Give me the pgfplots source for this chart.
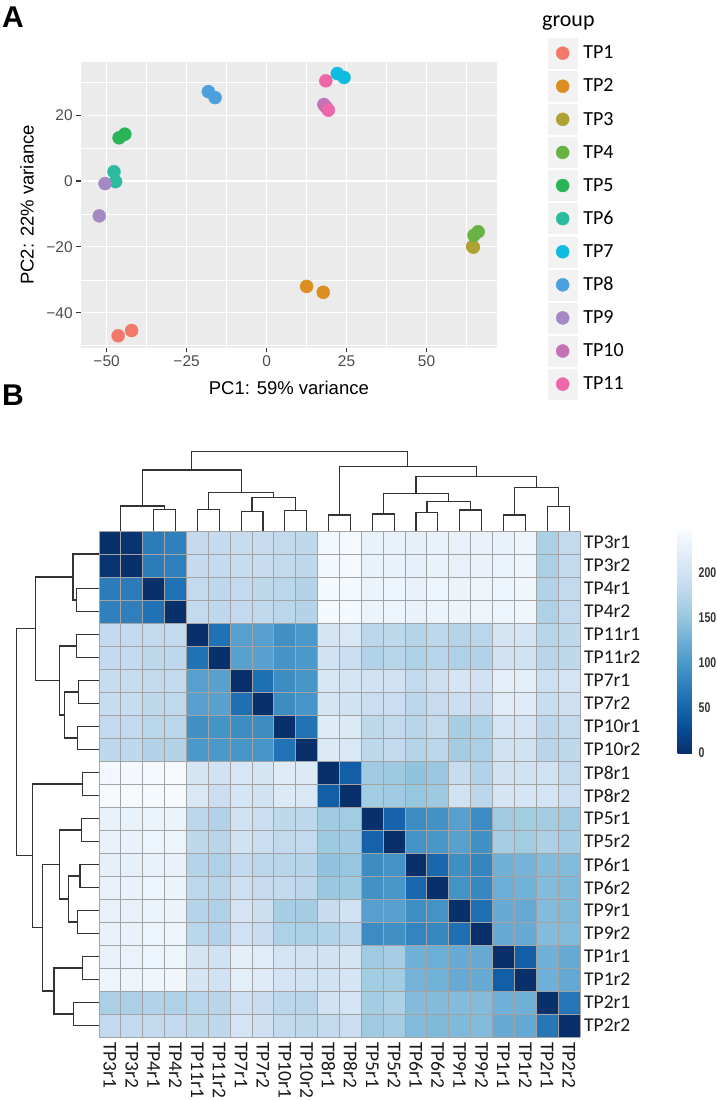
\documentclass[border=0pt]{standalone}
\usepackage{fontspec}
\setmainfont{Liberation Sans}
\newfontfamily\carlito{Carlito}
\newfontfamily\cbfont[FakeStretch=0.75]{Liberation Sans}
\usepackage{pgfplots}
\usepackage{pgfplotstable}
\pgfplotsset{compat=1.18}
\usetikzlibrary{calc}

\definecolor{panelbg}{HTML}{EBEBEB}
\definecolor{tickgray}{HTML}{333333}
\definecolor{labgray}{HTML}{4D4D4D}
\definecolor{keybg}{HTML}{F2F2F2}
\definecolor{cellgray}{HTML}{A3A3A3}
\definecolor{dendrogray}{HTML}{333333}
\definecolor{tp1}{HTML}{F4776B}
\definecolor{tp2}{HTML}{DC8E22}
\definecolor{tp3}{HTML}{ADA232}
\definecolor{tp4}{HTML}{68B344}
\definecolor{tp5}{HTML}{2AB458}
\definecolor{tp6}{HTML}{2DBBA0}
\definecolor{tp7}{HTML}{10BBE0}
\definecolor{tp8}{HTML}{4BA0DD}
\definecolor{tp9}{HTML}{A489C4}
\definecolor{tp10}{HTML}{C472B4}
\definecolor{tp11}{HTML}{EE67A8}

\pgfplotsset{
  colormap={blues}{rgb255=(8,48,107) rgb255=(8,81,156) rgb255=(33,113,181)
    rgb255=(66,146,198) rgb255=(107,174,214) rgb255=(158,202,225)
    rgb255=(198,219,239) rgb255=(222,235,247) rgb255=(247,251,255)},
  grp/.style={only marks, mark=*, mark size=6.5pt, color=#1,
    mark options={draw=none, fill=#1},
    legend image code/.code={
      \fill[keybg] (-14.5pt,-15pt) rectangle (14.5pt,15pt);
      \fill[#1] (0pt,0pt) circle (6.5pt);}},
  dendro/.style={draw=dendrogray, line width=1.1pt, no marks, unbounded coords=jump},
}

% dendrogram segments: leaf position, merge height (same tree on both sides)
\pgfplotstableread{
pos h
2 0
2 21.7
3 21.7
3 0
nan nan
0.5 0
0.5 25
2.5 25
2.5 21.7
nan nan
4 0
4 21.7
5 21.7
5 0
nan nan
6 0
6 19.3
7 19.3
7 0
nan nan
8 0
8 20.3
9 20.3
9 0
nan nan
6.5 19.3
6.5 33.3
8.5 33.3
8.5 20.3
nan nan
4.5 21.7
4.5 38.3
7.5 38.3
7.5 33.3
nan nan
1.5 25
1.5 61
6 61
6 38.3
nan nan
10 0
10 16
11 16
11 0
nan nan
12 0
12 17
13 17
13 0
nan nan
14 0
14 18.3
15 18.3
15 0
nan nan
16 0
16 21
17 21
17 0
nan nan
14.5 18.3
14.5 29.3
16.5 29.3
16.5 21
nan nan
12.5 17
12.5 37.7
15.5 37.7
15.5 29.3
nan nan
18 0
18 16
19 16
19 0
nan nan
20 0
20 24.3
21 24.3
21 0
nan nan
18.5 16
18.5 43.3
20.5 43.3
20.5 24.3
nan nan
14 37.7
14 54.3
19.5 54.3
19.5 43.3
nan nan
10.5 16
10.5 64.3
16.75 64.3
16.75 54.3
nan nan
3.75 61
3.75 79.3
13.625 79.3
13.625 64.3
}\dendrotab

\begin{document}
\begin{tikzpicture}[x=1pt,y=1pt]
\path[use as bounding box] (0,0) rectangle (717,1100);

\node[anchor=base west, inner sep=0pt, font=\bfseries\fontsize{30}{30}\selectfont] at (2,1072) {A};
\node[anchor=base west, inner sep=0pt, font=\bfseries\fontsize{30}{30}\selectfont] at (2,694) {B};

% ---- panel A: PCA ----
\begin{axis}[
  at={(80.7pt,752pt)}, anchor=south west,
  scale only axis, width=416.3pt, height=286.3pt,
  xmin=-58.1, xmax=72, ymin=-50.7, ymax=36.2,
  axis background/.style={fill=panelbg},
  axis line style={draw=none},
  tick align=outside, tick pos=left,
  major tick length=4.5pt, minor tick length=0pt,
  tick style={draw=tickgray, line width=1.1pt},
  xtick={-50,-25,0,25,50}, xticklabels={−50,−25,0,25,50},
  ytick={-40,-20,0,20}, yticklabels={−40,−20,0,20},
  minor xtick={-37.5,-12.5,12.5,37.5,62.5},
  minor ytick={-50,-30,-10,10,30},
  grid=both,
  major grid style={draw=white, line width=1.1pt},
  minor grid style={draw=white, line width=0.55pt},
  ticklabel style={font=\fontsize{15.5}{15.5}\selectfont, text=labgray},
  xlabel={PC1: 59\% variance}, ylabel={PC2: 22\% variance},
  label style={font=\fontsize{18.5}{18.5}\selectfont},
  xlabel style={at={(axis description cs:0.5,-0.1397)}, anchor=center},
  ylabel style={at={(axis description cs:-0.129,0.5)}, anchor=center},
  legend style={at={(axis description cs:1.1225,1.083)}, anchor=north west,
    draw=none, fill=none, inner sep=0pt, outer sep=0pt,
    row sep=2.7pt, column sep=6pt, nodes={inner sep=0pt},
    font=\carlito\fontsize{20}{20}\selectfont},
  legend cell align=left,
]
\addplot[grp=tp1] coordinates {(-46.4,-47.0) (-42.2,-45.4)};
\addlegendentry{TP1}
\addplot[grp=tp2] coordinates {(12.5,-32.0) (17.7,-33.8)};
\addlegendentry{TP2}
\addplot[grp=tp3] coordinates {(64.4,-19.9) (64.6,-20.1)};
\addlegendentry{TP3}
\addplot[grp=tp4] coordinates {(64.8,-16.5) (66.1,-15.4)};
\addlegendentry{TP4}
\addplot[grp=tp5] coordinates {(-46.1,13.1) (-44.3,14.2)};
\addlegendentry{TP5}
\addplot[grp=tp6] coordinates {(-47.7,2.8) (-47.2,-0.2)};
\addlegendentry{TP6}
\addplot[grp=tp7] coordinates {(22.1,32.6) (24.2,31.4)};
\addlegendentry{TP7}
\addplot[grp=tp8] coordinates {(-18.2,27.1) (-16.1,25.3)};
\addlegendentry{TP8}
\addplot[grp=tp9] coordinates {(-50.5,-0.8) (-52.3,-10.6)};
\addlegendentry{TP9}
\addplot[grp=tp10] coordinates {(17.9,23.2) (18.6,22.4)};
\addlegendentry{TP10}
\addplot[grp=tp11] coordinates {(18.5,30.4) (19.3,21.5)};
\addlegendentry{TP11}
\end{axis}
\node[anchor=base west, inner sep=0pt, font=\carlito\fontsize{22}{22}\selectfont] at (542,1073) {group};

% ---- panel B: dendrograms ----
\begin{axis}[
  at={(99pt,569pt)}, anchor=south west,
  scale only axis, width=481pt, height=79.3pt,
  xmin=-0.5, xmax=21.5, ymin=0, ymax=79.3,
  hide axis, clip=false]
\addplot[dendro] table[x=pos, y=h] {\dendrotab};
\end{axis}

\begin{axis}[
  at={(16.5pt,63pt)}, anchor=south west,
  scale only axis, width=82.5pt, height=506pt,
  xmin=0, xmax=79.3, x dir=reverse,
  ymin=-0.5, ymax=21.5, y dir=reverse,
  hide axis, clip=false]
\addplot[dendro] table[x=h, y=pos] {\dendrotab};
\end{axis}

% ---- panel B: heatmap ----
\begin{axis}[
  at={(99pt,63pt)}, anchor=south west,
  scale only axis, width=481pt, height=506pt,
  xmin=-0.5, xmax=21.5, ymin=-0.5, ymax=21.5, y dir=reverse,
  enlargelimits=false, axis on top,
  axis line style={draw=none},
  xtick={0,...,21}, ytick={0,...,21},
  xticklabels={TP3r1,TP3r2,TP4r1,TP4r2,TP11r1,TP11r2,TP7r1,TP7r2,TP10r1,TP10r2,TP8r1,TP8r2,TP5r1,TP5r2,TP6r1,TP6r2,TP9r1,TP9r2,TP1r1,TP1r2,TP2r1,TP2r2},
  yticklabels={TP3r1,TP3r2,TP4r1,TP4r2,TP11r1,TP11r2,TP7r1,TP7r2,TP10r1,TP10r2,TP8r1,TP8r2,TP5r1,TP5r2,TP6r1,TP6r2,TP9r1,TP9r2,TP1r1,TP1r2,TP2r1,TP2r2},
  major tick length=0pt, minor tick length=0pt,
  minor xtick={-0.5,0.5,...,21.5}, minor ytick={-0.5,0.5,...,21.5},
  grid=minor, minor grid style={draw=cellgray, line width=1pt},
  yticklabel pos=right,
  ticklabel style={font=\carlito\fontsize{19.5}{19.5}\selectfont, text=black!90, inner sep=0pt},
  xticklabel style={rotate=-90, anchor=west},
  yticklabel style={anchor=west},
  xticklabel shift=5pt, yticklabel shift=4pt,
  colormap name=blues, point meta min=0, point meta max=248,
  colorbar,
  colorbar style={
    at={($(parent axis.north east)+(89pt,1pt)$)}, anchor=north west,
    scale only axis, width=15pt, height=223pt,
    axis line style={draw=none}, major tick length=0pt,
    xtick=\empty,
    ytick={0,50,100,150,200}, yticklabels={0,50,100,150,200},
    yticklabel style={font=\cbfont\bfseries\fontsize{14}{14}\selectfont, text=tickgray, inner sep=0pt, anchor=west},
    yticklabel shift=6pt},
]
\addplot[matrix plot*, mesh/cols=22, point meta=explicit] coordinates {
(0,0)[0] (1,0)[4] (2,0)[72] (3,0)[76] (4,0)[185] (5,0)[185] (6,0)[188] (7,0)[188] (8,0)[183] (9,0)[180] (10,0)[242] (11,0)[244] (12,0)[230] (13,0)[231] (14,0)[226] (15,0)[231] (16,0)[229] (17,0)[231] (18,0)[231] (19,0)[235] (20,0)[165] (21,0)[183]

(0,1)[4] (1,1)[0] (2,1)[72] (3,1)[75] (4,1)[185] (5,1)[185] (6,1)[188] (7,1)[188] (8,1)[183] (9,1)[180] (10,1)[243] (11,1)[245] (12,1)[230] (13,1)[231] (14,1)[227] (15,1)[231] (16,1)[229] (17,1)[231] (18,1)[232] (19,1)[235] (20,1)[165] (21,1)[183]

(0,2)[72] (1,2)[72] (2,2)[0] (3,2)[62] (4,2)[183] (5,2)[180] (6,2)[183] (7,2)[180] (8,2)[177] (9,2)[172] (10,2)[245] (11,2)[245] (12,2)[234] (13,2)[235] (14,2)[231] (15,2)[235] (16,2)[233] (17,2)[235] (18,2)[236] (19,2)[238] (20,2)[170] (21,2)[183]

(0,3)[76] (1,3)[75] (2,3)[62] (3,3)[0] (4,3)[183] (5,3)[181] (6,3)[184] (7,3)[182] (8,3)[177] (9,3)[172] (10,3)[245] (11,3)[245] (12,3)[233] (13,3)[235] (14,3)[231] (15,3)[234] (16,3)[233] (17,3)[235] (18,3)[236] (19,3)[238] (20,3)[168] (21,3)[183]

(0,4)[185] (1,4)[185] (2,4)[183] (3,4)[183] (4,4)[0] (5,4)[62] (6,4)[108] (7,4)[108] (8,4)[92] (9,4)[100] (10,4)[205] (11,4)[212] (12,4)[178] (13,4)[180] (14,4)[173] (15,4)[179] (16,4)[173] (17,4)[177] (18,4)[206] (19,4)[206] (20,4)[174] (21,4)[180]

(0,5)[185] (1,5)[185] (2,5)[180] (3,5)[181] (4,5)[62] (5,5)[0] (6,5)[110] (7,5)[110] (8,5)[95] (9,5)[100] (10,5)[200] (11,5)[192] (12,5)[170] (13,5)[175] (14,5)[168] (15,5)[174] (16,5)[168] (17,5)[170] (18,5)[200] (19,5)[200] (20,5)[175] (21,5)[180]

(0,6)[188] (1,6)[188] (2,6)[183] (3,6)[184] (4,6)[108] (5,6)[110] (6,6)[0] (7,6)[60] (8,6)[88] (9,6)[97] (10,6)[208] (11,6)[205] (12,6)[200] (13,6)[200] (14,6)[184] (15,6)[195] (16,6)[205] (17,6)[198] (18,6)[224] (19,6)[222] (20,6)[195] (21,6)[204]

(0,7)[188] (1,7)[188] (2,7)[180] (3,7)[182] (4,7)[108] (5,7)[110] (6,7)[60] (7,7)[0] (8,7)[88] (9,7)[96] (10,7)[206] (11,7)[200] (12,7)[192] (13,7)[192] (14,7)[178] (15,7)[186] (16,7)[194] (17,7)[190] (18,7)[220] (19,7)[218] (20,7)[190] (21,7)[196]

(0,8)[183] (1,8)[183] (2,8)[177] (3,8)[177] (4,8)[92] (5,8)[95] (6,8)[88] (7,8)[88] (8,8)[0] (9,8)[63] (10,8)[218] (11,8)[215] (12,8)[180] (13,8)[183] (14,8)[176] (15,8)[183] (16,8)[163] (17,8)[167] (18,8)[204] (19,8)[204] (20,8)[178] (21,8)[183]

(0,9)[180] (1,9)[180] (2,9)[172] (3,9)[172] (4,9)[100] (5,9)[100] (6,9)[97] (7,9)[96] (8,9)[63] (9,9)[0] (10,9)[215] (11,9)[212] (12,9)[180] (13,9)[183] (14,9)[173] (15,9)[178] (16,9)[160] (17,9)[165] (18,9)[200] (19,9)[200] (20,9)[175] (21,9)[180]

(0,10)[242] (1,10)[243] (2,10)[245] (3,10)[245] (4,10)[205] (5,10)[200] (6,10)[208] (7,10)[206] (8,10)[218] (9,10)[215] (10,10)[0] (11,10)[45] (12,10)[157] (13,10)[155] (14,10)[147] (15,10)[153] (16,10)[188] (17,10)[170] (18,10)[200] (19,10)[200] (20,10)[200] (21,10)[184]

(0,11)[244] (1,11)[245] (2,11)[245] (3,11)[245] (4,11)[212] (5,11)[192] (6,11)[205] (7,11)[200] (8,11)[215] (9,11)[212] (10,11)[45] (11,11)[0] (12,11)[158] (13,11)[157] (14,11)[151] (15,11)[155] (16,11)[200] (17,11)[178] (18,11)[206] (19,11)[206] (20,11)[204] (21,11)[192]

(0,12)[230] (1,12)[230] (2,12)[234] (3,12)[233] (4,12)[178] (5,12)[170] (6,12)[200] (7,12)[192] (8,12)[180] (9,12)[180] (10,12)[157] (11,12)[158] (12,12)[0] (13,12)[48] (14,12)[88] (15,12)[93] (16,12)[108] (17,12)[87] (18,12)[156] (19,12)[158] (20,12)[160] (21,12)[156]

(0,13)[231] (1,13)[231] (2,13)[235] (3,13)[235] (4,13)[180] (5,13)[175] (6,13)[200] (7,13)[192] (8,13)[183] (9,13)[183] (10,13)[155] (11,13)[157] (12,13)[48] (13,13)[0] (14,13)[94] (15,13)[98] (16,13)[110] (17,13)[92] (18,13)[161] (19,13)[158] (20,13)[166] (21,13)[160]

(0,14)[226] (1,14)[227] (2,14)[231] (3,14)[231] (4,14)[173] (5,14)[168] (6,14)[184] (7,14)[178] (8,14)[176] (9,14)[173] (10,14)[147] (11,14)[151] (12,14)[88] (13,14)[94] (14,14)[0] (15,14)[52] (16,14)[90] (17,14)[80] (18,14)[127] (19,14)[130] (20,14)[139] (21,14)[138]

(0,15)[231] (1,15)[231] (2,15)[235] (3,15)[234] (4,15)[179] (5,15)[174] (6,15)[195] (7,15)[186] (8,15)[183] (9,15)[178] (10,15)[153] (11,15)[155] (12,15)[93] (13,15)[98] (14,15)[52] (15,15)[0] (16,15)[94] (17,15)[83] (18,15)[124] (19,15)[128] (20,15)[139] (21,15)[137]

(0,16)[229] (1,16)[229] (2,16)[233] (3,16)[233] (4,16)[173] (5,16)[168] (6,16)[205] (7,16)[194] (8,16)[163] (9,16)[160] (10,16)[188] (11,16)[200] (12,16)[108] (13,16)[110] (14,16)[90] (15,16)[94] (16,16)[0] (17,16)[60] (18,16)[121] (19,16)[120] (20,16)[138] (21,16)[137]

(0,17)[231] (1,17)[231] (2,17)[235] (3,17)[235] (4,17)[177] (5,17)[170] (6,17)[198] (7,17)[190] (8,17)[167] (9,17)[165] (10,17)[170] (11,17)[178] (12,17)[87] (13,17)[92] (14,17)[80] (15,17)[83] (16,17)[60] (17,17)[0] (18,17)[121] (19,17)[121] (20,17)[139] (21,17)[138]

(0,18)[231] (1,18)[232] (2,18)[236] (3,18)[236] (4,18)[206] (5,18)[200] (6,18)[224] (7,18)[220] (8,18)[204] (9,18)[200] (10,18)[200] (11,18)[206] (12,18)[156] (13,18)[161] (14,18)[127] (15,18)[124] (16,18)[121] (17,18)[121] (18,18)[0] (19,18)[45] (20,18)[126] (21,18)[121]

(0,19)[235] (1,19)[235] (2,19)[238] (3,19)[238] (4,19)[206] (5,19)[200] (6,19)[222] (7,19)[218] (8,19)[204] (9,19)[200] (10,19)[200] (11,19)[206] (12,19)[158] (13,19)[158] (14,19)[130] (15,19)[128] (16,19)[120] (17,19)[121] (18,19)[45] (19,19)[0] (20,19)[126] (21,19)[118]

(0,20)[165] (1,20)[165] (2,20)[170] (3,20)[168] (4,20)[174] (5,20)[175] (6,20)[195] (7,20)[190] (8,20)[178] (9,20)[175] (10,20)[200] (11,20)[204] (12,20)[160] (13,20)[166] (14,20)[139] (15,20)[139] (16,20)[138] (17,20)[139] (18,20)[126] (19,20)[126] (20,20)[0] (21,20)[68]

(0,21)[183] (1,21)[183] (2,21)[183] (3,21)[183] (4,21)[180] (5,21)[180] (6,21)[204] (7,21)[196] (8,21)[183] (9,21)[180] (10,21)[184] (11,21)[192] (12,21)[156] (13,21)[160] (14,21)[138] (15,21)[137] (16,21)[137] (17,21)[138] (18,21)[121] (19,21)[118] (20,21)[68] (21,21)[0]
};
\end{axis}
\end{tikzpicture}
\end{document}
